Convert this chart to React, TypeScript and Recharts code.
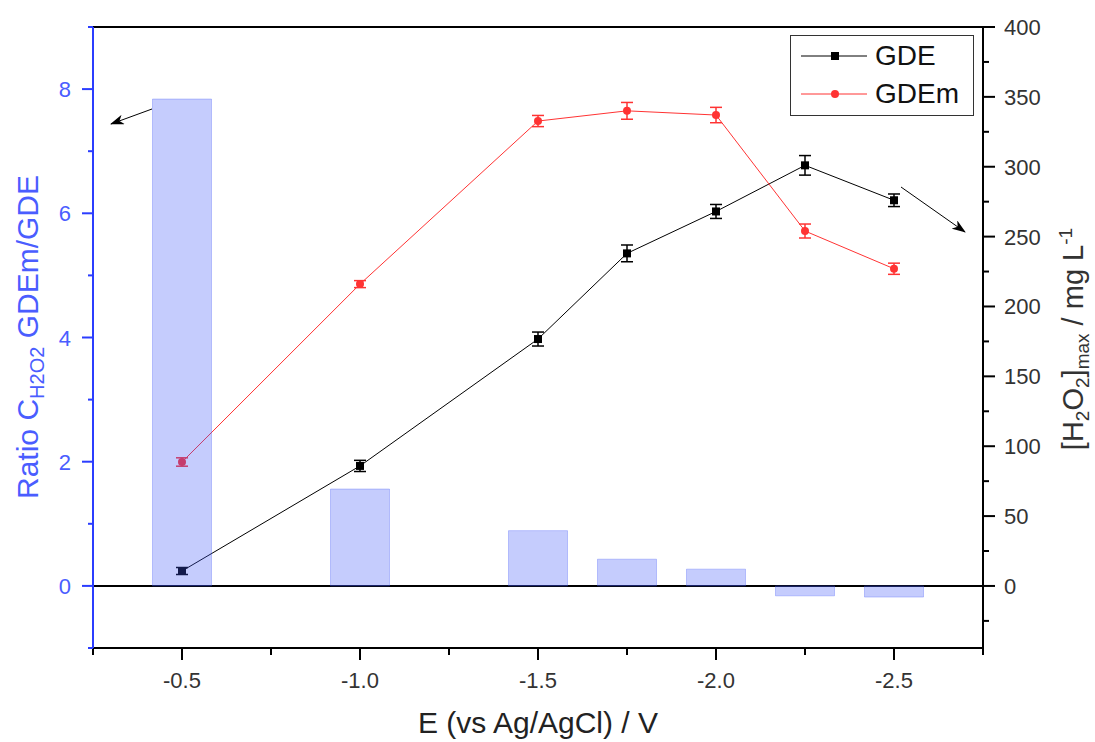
import React from 'react'
import {
    ComposedChart,
    Bar,
    Line,
    XAxis,
    YAxis,
    ErrorBar,
    ReferenceLine,
    Legend
} from 'recharts'

// potentials (V vs Ag/AgCl)
const potentials = [-0.5, -1.0, -1.5, -1.75, -2.0, -2.25, -2.5]
// ratio C(H2O2) GDEm / GDE  (left axis, bars)
const ratio = [7.84, 1.56, 0.89, 0.43, 0.27, -0.16, -0.18]
// [H2O2]max in mg/L (right axis)
const gde = [10.7, 85.9, 176.7, 238, 268, 301, 276]
const gdeErr = [2.5, 4, 5, 6, 5, 7, 4.5]
const gdem = [88.7, 216, 332.7, 340, 337, 254, 227]
const gdemErr = [3, 2.5, 4, 6, 5.5, 5, 4]

const xTicks = [-0.25, -0.5, -0.75, -1.0, -1.25, -1.5, -1.75, -2.0, -2.25, -2.5, -2.75]
const leftTicks = [-1, 0, 1, 2, 3, 4, 5, 6, 7, 8, 9]
const rightTicks = [-25, 0, 25, 50, 75, 100, 125, 150, 175, 200, 225, 250, 275, 300, 325, 350, 375, 400]

const BLUE = '#2b3dff'
const BLUE_TEXT = '#4a5dff'
const FONT = '"Liberation Sans", Arial, sans-serif'

const data = potentials.map((x, i) => ({
    x,
    ratio: ratio[i],
    gde: gde[i],
    gdeErr: gdeErr[i],
    gdem: gdem[i],
    gdemErr: gdemErr[i]
}))

const XTick = (props: any) => {
    const { x, y, payload } = props
    const v = payload.value
    const major = Math.abs(v * 2 - Math.round(v * 2)) < 1e-6
    return (
        <g>
            <line x1={x} x2={x} y1={y} y2={y + (major ? 12 : 7)} stroke="#000" strokeWidth={2} />
            {major && (
                <text x={x} y={y + 40} textAnchor="middle" fill="#333" fontSize={22} fontFamily={FONT}>
                    {v.toFixed(1)}
                </text>
            )}
        </g>
    )
}

const LeftTick = (props: any) => {
    const { x, y, payload } = props
    const major = payload.value % 2 === 0
    return (
        <g>
            <line x1={x} x2={x - (major ? 11 : 5)} y1={y} y2={y} stroke={BLUE} strokeWidth={2} />
            {major && (
                <text x={x - 22} y={y + 8} textAnchor="end" fill={BLUE_TEXT} fontSize={22} fontFamily={FONT}>
                    {payload.value}
                </text>
            )}
        </g>
    )
}

const RightTick = (props: any) => {
    const { x, y, payload } = props
    const major = payload.value % 50 === 0
    return (
        <g>
            <line x1={x} x2={x + (major ? 12 : 6)} y1={y} y2={y} stroke="#000" strokeWidth={2} />
            {major && (
                <text x={x + 21} y={y + 8} textAnchor="start" fill="#333" fontSize={22} fontFamily={FONT}>
                    {payload.value}
                </text>
            )}
        </g>
    )
}

const SquareDot = (props: any) => {
    const { cx, cy } = props
    if (cx == null || cy == null) return null
    return <rect x={cx - 4} y={cy - 4} width={8} height={8} fill="#000" />
}

const CircleDot = (props: any) => {
    const { cx, cy } = props
    if (cx == null || cy == null) return null
    return <circle cx={cx} cy={cy} r={4} fill="#ff3333" />
}

const LegendBox = (props: any) => {
    const { payload } = props
    const items = (payload || []).filter((p: any) => p.type !== 'none' && p.value !== 'ratio')
    return (
        <div
            style={{
                width: 184,
                height: 81,
                border: '1px solid #333',
                background: '#fff',
                fontFamily: FONT,
                boxSizing: 'border-box'
            }}
        >
            {items.map((p: any, i: number) => (
                <div key={p.value} style={{ display: 'flex', alignItems: 'center', height: 40, marginTop: i === 0 ? 0 : -2 }}>
                    <svg width={82} height={20} style={{ marginLeft: 2 }}>
                        <line x1={8} x2={74} y1={10} y2={10} stroke={p.color} strokeWidth={1} />
                        {p.value === 'GDE' ? (
                            <rect x={38} y={6} width={8} height={8} fill="#000" />
                        ) : (
                            <circle cx={42} cy={10} r={4} fill="#ff3333" />
                        )}
                    </svg>
                    <span style={{ fontSize: 28, color: '#111', marginLeft: 0 }}>{p.value}</span>
                </div>
            ))}
        </div>
    )
}

export default function App() {
    return (
        <div style={{ position: 'absolute', left: 0, top: 0, width: 1095, height: 742, background: '#fff' }}>
            <ComposedChart
                width={1095}
                height={742}
                data={data}
                margin={{ top: 27, right: 32, bottom: 44, left: 33 }}
            >
                <XAxis
                    dataKey="x"
                    type="number"
                    domain={[-2.75, -0.25]}
                    reversed
                    allowDataOverflow
                    ticks={xTicks}
                    interval={0}
                    tick={<XTick />}
                    tickLine={false}
                    tickSize={0}
                    tickMargin={0}
                    height={50}
                    axisLine={{ stroke: '#000', strokeWidth: 2 }}
                />
                <YAxis
                    yAxisId="left"
                    type="number"
                    domain={[-1, 9]}
                    allowDataOverflow
                    ticks={leftTicks}
                    interval={0}
                    tick={<LeftTick />}
                    tickLine={false}
                    tickSize={0}
                    tickMargin={0}
                    width={60}
                    axisLine={{ stroke: BLUE, strokeWidth: 2 }}
                />
                <YAxis
                    yAxisId="right"
                    orientation="right"
                    type="number"
                    domain={[-44.4, 400]}
                    allowDataOverflow
                    ticks={rightTicks}
                    interval={0}
                    tick={<RightTick />}
                    tickLine={false}
                    tickSize={0}
                    tickMargin={0}
                    width={80}
                    axisLine={{ stroke: '#000', strokeWidth: 2 }}
                />
                <ReferenceLine yAxisId="left" y={9} stroke="#000" strokeWidth={2} />
                <ReferenceLine yAxisId="left" y={0} stroke="#000" strokeWidth={2} />

                <Line
                    yAxisId="right"
                    dataKey="gde"
                    name="GDE"
                    stroke="#000"
                    strokeWidth={1}
                    dot={<SquareDot />}
                    activeDot={false}
                    isAnimationActive={false}
                >
                    <ErrorBar dataKey="gdeErr" direction="y" width={6} stroke="#000" strokeWidth={1.5} />
                </Line>
                <Line
                    yAxisId="right"
                    dataKey="gdem"
                    name="GDEm"
                    stroke="#ff3333"
                    strokeWidth={1}
                    dot={<CircleDot />}
                    activeDot={false}
                    isAnimationActive={false}
                >
                    <ErrorBar dataKey="gdemErr" direction="y" width={6} stroke="#ff3333" strokeWidth={1.5} />
                </Line>
                <Bar
                    yAxisId="left"
                    dataKey="ratio"
                    name="ratio"
                    barSize={59}
                    fill="#3e55f8"
                    fillOpacity={0.3}
                    stroke="#3e55f8"
                    strokeOpacity={0.3}
                    legendType="none"
                    zIndex={1000}
                    isAnimationActive={false}
                />
                <Legend
                    layout="vertical"
                    align="center"
                    verticalAlign="middle"
                    content={<LegendBox />}
                    wrapperStyle={{ position: 'absolute', left: 790, top: 35, width: 184, height: 81 }}
                />
            </ComposedChart>

            <svg
                width={1095}
                height={742}
                style={{ position: 'absolute', left: 0, top: 0, pointerEvents: 'none' }}
                fontFamily={FONT}
            >
                <defs>
                    <marker id="head" markerWidth="14" markerHeight="10" refX="13" refY="5" orient="auto" markerUnits="userSpaceOnUse">
                        <path d="M0,0 L14,5 L0,10 L4,5 Z" fill="#000" />
                    </marker>
                </defs>
                <line x1={152} y1={109} x2={111} y2={124} stroke="#000" strokeWidth={1} markerEnd="url(#head)" />
                <line x1={901} y1={187} x2={965} y2={232} stroke="#000" strokeWidth={1} markerEnd="url(#head)" />

                <text x={538} y={733} textAnchor="middle" fontSize={30} fill="#222">
                    E (vs Ag/AgCl) / V
                </text>

                <text transform="translate(38,337) rotate(-90)" textAnchor="middle" fontSize={30} fill={BLUE_TEXT}>
                    Ratio C
                    <tspan fontSize={20} dy={6}>H2O2</tspan>
                    <tspan dy={-6}> GDEm/GDE</tspan>
                </text>

                <text transform="translate(1083,339) rotate(-90)" textAnchor="middle" fontSize={29} fill="#333">
                    [H
                    <tspan fontSize={19} dy={6}>2</tspan>
                    <tspan dy={-6}>O</tspan>
                    <tspan fontSize={19} dy={6}>2</tspan>
                    <tspan dy={-6}>]</tspan>
                    <tspan fontSize={19} dy={6}>max</tspan>
                    <tspan dy={-6}> / mg L</tspan>
                    <tspan fontSize={19} dy={-11}>-1</tspan>
                </text>
            </svg>
        </div>
    )
}
